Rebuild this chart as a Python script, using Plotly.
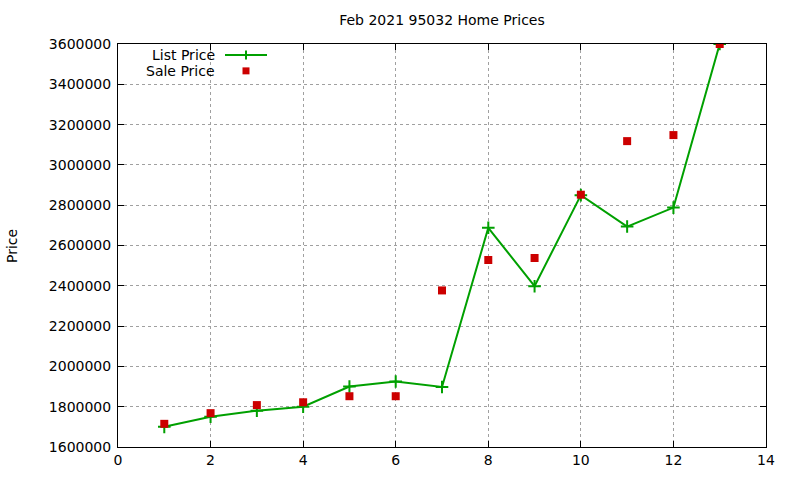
import plotly.graph_objects as go

x_vals = [1, 2, 3, 4, 5, 6, 7, 8, 9, 10, 11, 12, 13]
list_price = [1700000, 1750000, 1780000, 1800000, 1900000, 1925000, 1898000,
              2688000, 2398000, 2850000, 2694000, 2788000, 3600000]
sale_price = [1715000, 1768000, 1808000, 1822000, 1852000, 1852000, 2377000,
              2528000, 2538000, 2852000, 3118000, 3148000, 3600000]
x_ticks = [0, 2, 4, 6, 8, 10, 12, 14]
y_ticks = list(range(1600000, 3600001, 200000))

GREEN = "rgb(0,160,0)"
RED = "rgb(204,0,0)"
FONT = "DejaVu Sans"

fig = go.Figure()
fig.add_trace(go.Scatter(
    x=x_vals, y=list_price, mode="lines+markers", name="List Price",
    line=dict(color=GREEN, width=2),
    marker=dict(symbol="cross-thin", size=9, line=dict(color=GREEN, width=2)),
    showlegend=False,
))
fig.add_trace(go.Scatter(
    x=x_vals, y=sale_price, mode="markers", name="Sale Price",
    marker=dict(symbol="square", size=8, color=RED, line=dict(width=0)),
    showlegend=False,
))

L, R, T, B = 118, 34, 44, 31
W, H = 800, 480
pw, ph = W - L - R, H - T - B

def px_x(p):
    return (p - L) / pw

def px_y(p):
    return 1 - (p - T) / ph

axis_common = dict(
    showline=True, linecolor="black", linewidth=1, mirror="ticks",
    ticks="inside", ticklen=6, tickcolor="black", tickwidth=1,
    showgrid=True, gridcolor="rgb(160,160,160)", gridwidth=1, griddash="dot",
    zeroline=False, tickfont=dict(family=FONT, size=14, color="black"),
)

fig.update_layout(
    width=W, height=H,
    margin=dict(l=L, r=R, t=T, b=B),
    paper_bgcolor="white", plot_bgcolor="white",
    font=dict(family=FONT, size=14, color="black"),
    title=dict(text="Feb 2021 95032 Home Prices", x=px_x(442), xref="paper",
               xanchor="center", y=1 - 20 / H, yanchor="middle",
               font=dict(family=FONT, size=14, color="black")),
    xaxis=dict(range=[0, 14], tickvals=x_ticks, **axis_common),
    yaxis=dict(range=[1600000, 3600000], tickvals=y_ticks,
               tickformat="d", ticklabelstandoff=3, **axis_common),
    annotations=[
        dict(text="Price", xref="paper", yref="paper", x=px_x(12), y=px_y(247),
             textangle=-90, showarrow=False, xanchor="center", yanchor="middle",
             font=dict(family=FONT, size=14, color="black")),
        dict(text="List Price", xref="paper", yref="paper", x=px_x(217), y=px_y(55),
             showarrow=False, xanchor="right", yanchor="middle",
             font=dict(family=FONT, size=14, color="black")),
        dict(text="Sale Price", xref="paper", yref="paper", x=px_x(217), y=px_y(71),
             showarrow=False, xanchor="right", yanchor="middle",
             font=dict(family=FONT, size=14, color="black")),
    ],
    shapes=[
        dict(type="line", xref="paper", yref="paper", x0=px_x(225), x1=px_x(267),
             y0=px_y(55), y1=px_y(55), line=dict(color=GREEN, width=2)),
        dict(type="line", xref="paper", yref="paper", x0=px_x(246), x1=px_x(246),
             y0=px_y(50.5), y1=px_y(59.5), line=dict(color=GREEN, width=2)),
        dict(type="rect", xref="paper", yref="paper", x0=px_x(242.5), x1=px_x(249.5),
             y0=px_y(67.5), y1=px_y(74.5), fillcolor=RED, line=dict(width=0)),
    ],
)

fig.write_html("out.html")
